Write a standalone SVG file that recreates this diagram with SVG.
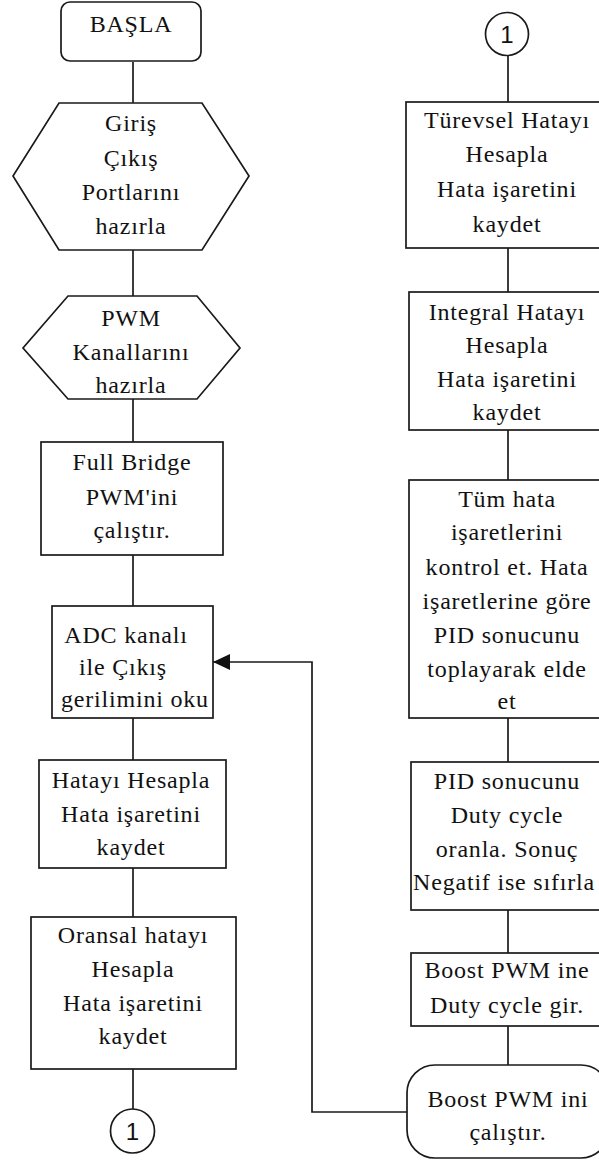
<svg xmlns="http://www.w3.org/2000/svg" width="599" height="1164" viewBox="0 0 599 1164">
  <style>
    .shape { fill: #ffffff; stroke: #1a1a1a; stroke-width: 1.7; }
    .conn { fill: none; stroke: #1a1a1a; stroke-width: 1.7; }
    .t { font-family: "Liberation Serif", "Times New Roman", serif; font-size: 24px; letter-spacing: 0.8px; fill: #111111; text-anchor: middle; }
    .n { font-family: "Liberation Sans", Arial, sans-serif; font-size: 24px; fill: #111111; text-anchor: middle; }
  </style>
  <defs>
    <marker id="arrow" markerUnits="userSpaceOnUse" markerWidth="18" markerHeight="16" refX="17" refY="8" orient="auto">
      <path d="M0,0 L17,8 L0,16 Z" fill="#111111"/>
    </marker>
  </defs>
  <rect width="599" height="1164" fill="#ffffff"/>

  <g id="connectors">
    <line class="conn" x1="133" y1="62" x2="133" y2="103"/>
    <line class="conn" x1="133" y1="250" x2="133" y2="296"/>
    <line class="conn" x1="133" y1="399" x2="133" y2="442"/>
    <line class="conn" x1="133" y1="555" x2="133" y2="606"/>
    <line class="conn" x1="133" y1="718" x2="133" y2="760"/>
    <line class="conn" x1="133" y1="868" x2="133" y2="917"/>
    <line class="conn" x1="133" y1="1069" x2="133" y2="1109"/>
    <line class="conn" x1="508" y1="55" x2="508" y2="102"/>
    <line class="conn" x1="508" y1="248" x2="508" y2="292"/>
    <line class="conn" x1="508" y1="430" x2="508" y2="480"/>
    <line class="conn" x1="508" y1="718" x2="508" y2="762"/>
    <line class="conn" x1="508" y1="910" x2="508" y2="953"/>
    <line class="conn" x1="508" y1="1026" x2="508" y2="1065"/>
    <path class="conn" d="M407,1112 H312 V662 H213" marker-end="url(#arrow)"/>
  </g>

  <g id="start">
    <rect class="shape" x="61" y="2" width="140" height="59" rx="9"/>
    <text class="t" x="131" y="32">BAŞLA</text>
  </g>

  <g id="ports">
    <polygon class="shape" points="59,103 202,103 249,176 202,250 59,250 13,176"/>
    <text class="t" x="131" y="131">Giriş</text>
    <text class="t" x="131" y="166">Çıkış</text>
    <text class="t" x="131" y="200">Portlarını</text>
    <text class="t" x="131" y="234">hazırla</text>
  </g>

  <g id="pwm-channels">
    <polygon class="shape" points="68,296 197,296 240,348 197,399 68,399 23,348"/>
    <text class="t" x="131" y="326">PWM</text>
    <text class="t" x="131" y="360">Kanallarını</text>
    <text class="t" x="131" y="393">hazırla</text>
  </g>

  <g id="full-bridge">
    <rect class="shape" x="41" y="442" width="182" height="113"/>
    <text class="t" x="132" y="470">Full Bridge</text>
    <text class="t" x="132" y="505">PWM'ini</text>
    <text class="t" x="132" y="538">çalıştır.</text>
  </g>

  <g id="adc">
    <rect class="shape" x="52" y="606" width="161" height="112"/>
    <text class="t" x="126" y="643">ADC kanalı</text>
    <text class="t" x="123" y="675">ile Çıkış</text>
    <text class="t" x="135" y="707">gerilimini oku</text>
  </g>

  <g id="error">
    <rect class="shape" x="39" y="760" width="187" height="108"/>
    <text class="t" x="131" y="788">Hatayı Hesapla</text>
    <text class="t" x="131" y="822">Hata işaretini</text>
    <text class="t" x="131" y="855">kaydet</text>
  </g>

  <g id="proportional">
    <rect class="shape" x="31" y="917" width="205" height="152"/>
    <text class="t" x="133" y="943">Oransal hatayı</text>
    <text class="t" x="133" y="977">Hesapla</text>
    <text class="t" x="133" y="1011">Hata işaretini</text>
    <text class="t" x="133" y="1044">kaydet</text>
  </g>

  <g id="connector-out">
    <circle class="shape" cx="132.5" cy="1131" r="22"/>
    <text class="n" x="132.5" y="1140">1</text>
  </g>

  <g id="connector-in">
    <circle class="shape" cx="507" cy="34" r="21.5"/>
    <text class="n" x="507" y="43">1</text>
  </g>

  <g id="derivative">
    <rect class="shape" x="406" y="102" width="204" height="146"/>
    <text class="t" x="507" y="128">Türevsel Hatayı</text>
    <text class="t" x="507" y="162">Hesapla</text>
    <text class="t" x="507" y="197">Hata işaretini</text>
    <text class="t" x="507" y="232">kaydet</text>
  </g>

  <g id="integral">
    <rect class="shape" x="409" y="292" width="200" height="138"/>
    <text class="t" x="507" y="320">Integral Hatayı</text>
    <text class="t" x="507" y="353">Hesapla</text>
    <text class="t" x="507" y="387">Hata işaretini</text>
    <text class="t" x="507" y="420">kaydet</text>
  </g>

  <g id="pid-sum">
    <rect class="shape" x="409" y="480" width="200" height="238"/>
    <text class="t" x="507" y="507">Tüm hata</text>
    <text class="t" x="507" y="540">işaretlerini</text>
    <text class="t" x="507" y="575">kontrol et. Hata</text>
    <text class="t" x="507" y="609">işaretlerine göre</text>
    <text class="t" x="507" y="643">PID sonucunu</text>
    <text class="t" x="507" y="677">toplayarak elde</text>
    <text class="t" x="507" y="709">et</text>
  </g>

  <g id="duty-ratio">
    <rect class="shape" x="411" y="762" width="196" height="148"/>
    <text class="t" x="507" y="789">PID sonucunu</text>
    <text class="t" x="507" y="823">Duty cycle</text>
    <text class="t" x="507" y="857">oranla. Sonuç</text>
    <text class="t" x="504" y="890">Negatif ise sıfırla</text>
  </g>

  <g id="duty-input">
    <rect class="shape" x="411" y="953" width="196" height="73"/>
    <text class="t" x="507" y="978">Boost PWM ine</text>
    <text class="t" x="507" y="1013">Duty cycle gir.</text>
  </g>

  <g id="boost-run">
    <rect class="shape" x="407" y="1065" width="202" height="93" rx="28" ry="28"/>
    <text class="t" x="508" y="1107">Boost PWM ini</text>
    <text class="t" x="508" y="1140">çalıştır.</text>
  </g>
</svg>
